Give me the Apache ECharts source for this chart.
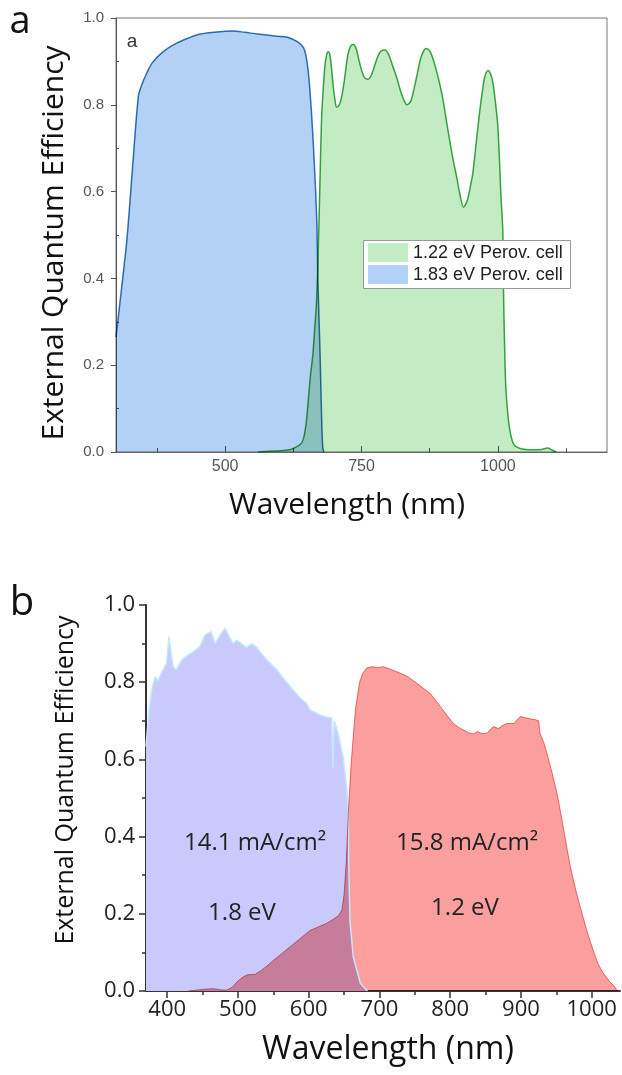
<!DOCTYPE html>
<html>
<head>
<meta charset="utf-8">
<title>External Quantum Efficiency</title>
<script src="https://cdn.jsdelivr.net/npm/echarts@6.0.0/dist/echarts.min.js"></script>
<style>
  html, body { margin: 0; padding: 0; background: #fff; }
  #chart { width: 622px; height: 1075px; }
</style>
</head>
<body>
<div id="chart"></div>
<script>
// ---- Panel a: 1.83 eV / 1.22 eV perovskite cells ----
const topBlueNm  = [300,310,320,330,341,347,356,366,386,411,433,454,485,515,536,560,576,595,613,633,644,650,655,661,668,670,674,677,679,681];
const topBlueEqe = [0.265,0.375,0.49,0.65,0.82,0.845,0.872,0.896,0.922,0.942,0.954,0.963,0.968,0.970,0.967,0.963,0.961,0.958,0.956,0.945,0.931,0.90,0.841,0.726,0.535,0.40,0.228,0.074,0.01,0];

const topGreenNm  = [560,580,600,620,628,638,643,648,652,656,661,664,667.5,670.6,673.6,676.7,679.5,682.8,686,689,692,695,698,701,704,707,711,716,720,725,730,735,740,745,750,756,762,768,774,780,786,793,800,807,814,822,828,833.5,840,846,852,858,863,868,874,880,887,893,899.5,908,918,925,930,937,944,950,954,960,967,972,976,982,987,991,996,1000,1006,1009,1010.5,1014,1018,1022,1028,1034,1045,1064,1080,1091,1100,1107];
const topGreenEqe = [0,0.002,0.003,0.006,0.01,0.018,0.028,0.06,0.112,0.17,0.227,0.28,0.343,0.458,0.611,0.765,0.83,0.888,0.915,0.922,0.915,0.885,0.845,0.815,0.795,0.796,0.805,0.835,0.87,0.915,0.935,0.939,0.93,0.905,0.88,0.862,0.859,0.868,0.89,0.912,0.924,0.926,0.915,0.89,0.865,0.83,0.81,0.80,0.808,0.835,0.87,0.905,0.922,0.93,0.926,0.91,0.88,0.85,0.811,0.745,0.673,0.63,0.596,0.564,0.58,0.615,0.642,0.71,0.788,0.835,0.865,0.879,0.87,0.85,0.8,0.75,0.58,0.51,0.358,0.166,0.09,0.05,0.02,0.012,0.007,0.005,0.006,0.009,0.004,0];

const topXTicks      = [500, 750, 1000];
const topXMinorTicks = [375, 625, 875, 1125];
const topYMinorTicks = [0.1, 0.3, 0.5, 0.7, 0.9];
const topLegendNames = ['1.22 eV Perov. cell', '1.83 eV Perov. cell'];

// ---- Panel b: 1.8 eV / 1.2 eV subcells ----
const botBlueNm  = [370,374,378,383,387,394,399,402.5,405,408.6,413,420,428,437,446,453.5,462,467.6,474.6,481.7,488.8,493.5,498,505,512,519.5,526.6,533,541,548,555,566,578,588,597,602,616,625,632.5,634,636,641.6,648.6,654,655.7,657,658.5,663,673,683];
const botBlueEqe = [0.633,0.72,0.78,0.814,0.804,0.832,0.849,0.918,0.88,0.84,0.832,0.857,0.868,0.879,0.892,0.922,0.931,0.90,0.922,0.94,0.914,0.90,0.909,0.90,0.89,0.90,0.89,0.875,0.857,0.845,0.832,0.806,0.78,0.759,0.745,0.728,0.715,0.71,0.707,0.578,0.70,0.668,0.606,0.52,0.477,0.29,0.176,0.088,0.02,0];

const botRedNm  = [430,440,455,465,475,484,492,499,506,513,524,532,541,552,564,576,588,602,616,625,634,642,647,650,653,656,660,666,672,676,682,690,698,705.6,715,724.6,738.7,752.9,771.7,786,795,804.7,811,818.8,826,833,838,845,852,857,861,868,874,880,890,899,906,913,920,925,927,932,936.7,944,951,958,965,970,979,988,995,1002,1009,1016,1025,1033,1036];
const botRedEqe = [0,0.002,0.005,0.006,0.003,0.002,0.01,0.024,0.035,0.042,0.043,0.052,0.065,0.082,0.1,0.118,0.136,0.157,0.168,0.175,0.185,0.195,0.21,0.25,0.33,0.46,0.59,0.73,0.8,0.822,0.837,0.84,0.838,0.84,0.834,0.827,0.816,0.797,0.771,0.737,0.715,0.693,0.684,0.676,0.669,0.666,0.672,0.667,0.668,0.678,0.685,0.68,0.688,0.693,0.693,0.711,0.708,0.705,0.703,0.70,0.667,0.645,0.616,0.565,0.512,0.443,0.37,0.32,0.25,0.19,0.145,0.106,0.07,0.047,0.025,0.01,0];

const botXTicks      = [400, 500, 600, 700, 800, 900, 1000];
const botXMinorTicks = [450, 550, 650, 750, 850, 950];
const botYMinorTicks = [0.1, 0.3, 0.5, 0.7, 0.9];

const zip = (xs, ys) => xs.map((x, i) => [x, ys[i]]);
const plain = v => String(v);
const oneDecimal = v => v.toFixed(1);

const SANS = '"Open Sans", "Noto Sans", sans-serif';
const ARIAL = '"Liberation Sans", Arial, sans-serif';

const C = {
  blueFill: '#b3d1f5', blueLine: '#2f78b8',
  greenFill: '#c4ecc4', greenLine: '#3aa845',
  lavFill: '#c9c9fb', lavLine: '#c2e8ff',
  redFill: '#fa9e9e', redLine: '#ee7a7a'
};

const chart = echarts.init(document.getElementById('chart'), null, { renderer: 'canvas' });

const noSplit = { show: false };

const option = {
  backgroundColor: '#fff',
  animation: false,
  grid: [
    { left: 116, top: 18, width: 491, height: 434, show: true, borderColor: '#777', borderWidth: 1, backgroundColor: 'transparent' },
    { left: 146, top: 605, width: 474, height: 386 }
  ],
  xAxis: [
    { gridIndex: 0, type: 'value', position: 'bottom', min: 300, max: 1200,
      axisLine: { show: true, lineStyle: { color: '#666', width: 1 } },
      axisTick: { show: true, inside: true, length: 6, customValues: topXTicks, lineStyle: { color: '#555' } },
      axisLabel: { customValues: topXTicks, formatter: plain, fontSize: 16, color: '#555', fontFamily: ARIAL, margin: 7 },
      splitLine: noSplit },
    { gridIndex: 0, type: 'value', position: 'bottom', min: 300, max: 1200,
      axisLine: { show: false },
      axisTick: { show: true, inside: true, length: 4, customValues: topXMinorTicks, lineStyle: { color: '#555' } },
      axisLabel: { show: false }, splitLine: noSplit },
    { gridIndex: 1, type: 'value', position: 'bottom', min: 370, max: 1040,
      axisLine: { show: true, lineStyle: { color: '#333', width: 2 } },
      axisTick: { show: true, length: 7, customValues: botXTicks, lineStyle: { color: '#333', width: 1.5 } },
      axisLabel: { customValues: botXTicks, formatter: plain, fontSize: 22, color: '#222', fontFamily: SANS, margin: 8 },
      splitLine: noSplit },
    { gridIndex: 1, type: 'value', position: 'bottom', min: 370, max: 1040,
      axisLine: { show: false },
      axisTick: { show: true, length: 4, customValues: botXMinorTicks, lineStyle: { color: '#333', width: 1.5 } },
      axisLabel: { show: false }, splitLine: noSplit }
  ],
  yAxis: [
    { gridIndex: 0, type: 'value', position: 'left', min: 0, max: 1, interval: 0.2,
      axisLine: { show: true, lineStyle: { color: '#555', width: 1 } },
      axisTick: { show: true, length: 5, lineStyle: { color: '#555' } },
      axisLabel: { formatter: oneDecimal, fontSize: 15, color: '#555', fontFamily: ARIAL, margin: 12 },
      splitLine: noSplit },
    { gridIndex: 0, type: 'value', position: 'left', min: 0, max: 1,
      axisLine: { show: false },
      axisTick: { show: true, inside: true, length: 3, customValues: topYMinorTicks, lineStyle: { color: '#555' } },
      axisLabel: { show: false }, splitLine: noSplit },
    { gridIndex: 1, type: 'value', position: 'left', min: 0, max: 1, interval: 0.2,
      axisLine: { show: true, lineStyle: { color: '#333', width: 2 } },
      axisTick: { show: true, length: 7, lineStyle: { color: '#333', width: 1.5 } },
      axisLabel: { formatter: oneDecimal, fontSize: 22, color: '#222', fontFamily: SANS, margin: 11 },
      splitLine: noSplit },
    { gridIndex: 1, type: 'value', position: 'left', min: 0, max: 1,
      axisLine: { show: false },
      axisTick: { show: true, length: 4, customValues: botYMinorTicks, lineStyle: { color: '#333', width: 1.5 } },
      axisLabel: { show: false }, splitLine: noSplit }
  ],
  series: [
    { name: topLegendNames[0], type: 'line', xAxisIndex: 0, yAxisIndex: 0,
      data: zip(topGreenNm, topGreenEqe), symbol: 'none', smooth: 0.3,
      lineStyle: { color: C.greenLine, width: 1.5 },
      areaStyle: { color: C.greenFill, opacity: 1 }, blendMode: 'multiply' },
    { name: topLegendNames[1], type: 'line', xAxisIndex: 0, yAxisIndex: 0,
      data: zip(topBlueNm, topBlueEqe), symbol: 'none', smooth: 0.3,
      lineStyle: { color: C.blueLine, width: 1.5 },
      areaStyle: { color: C.blueFill, opacity: 1 }, blendMode: 'multiply' },
    { name: '1.8 eV', type: 'line', xAxisIndex: 2, yAxisIndex: 2,
      data: zip(botBlueNm, botBlueEqe), symbol: 'none',
      lineStyle: { color: C.lavLine, width: 1.5 },
      areaStyle: { color: C.lavFill, opacity: 1 } },
    { name: '1.2 eV', type: 'line', xAxisIndex: 2, yAxisIndex: 2,
      data: zip(botRedNm, botRedEqe), symbol: 'none',
      lineStyle: { color: C.redLine, width: 1 },
      areaStyle: { color: C.redFill, opacity: 1 }, blendMode: 'multiply' }
  ],
  graphic: [
    // panel letters
    { type: 'text', z: 100, x: 20, y: 22, style: { text: 'a', font: '38px ' + SANS, fill: '#111', textAlign: 'center', textVerticalAlign: 'middle' } },
    { type: 'text', z: 100, x: 22, y: 604, style: { text: 'b', font: '40px ' + SANS, fill: '#111', textAlign: 'center', textVerticalAlign: 'middle' } },
    { type: 'text', z: 100, x: 132, y: 42, style: { text: 'a', font: '19px ' + ARIAL, fill: '#333', textAlign: 'center', textVerticalAlign: 'middle' } },
    // axis titles
    { type: 'text', z: 100, x: 54, y: 243, rotation: Math.PI / 2, style: { text: 'External Quantum Efficiency', font: '30px ' + SANS, fill: '#111', textAlign: 'center', textVerticalAlign: 'middle' } },
    { type: 'text', z: 100, x: 347, y: 505, style: { text: 'Wavelength (nm)', font: '30px ' + SANS, fill: '#111', textAlign: 'center', textVerticalAlign: 'middle' } },
    { type: 'text', z: 100, x: 66, y: 780, rotation: Math.PI / 2, style: { text: 'External Quantum Efficiency', font: '25px ' + SANS, fill: '#111', textAlign: 'center', textVerticalAlign: 'middle' } },
    { type: 'text', z: 100, x: 388, y: 1050, style: { text: 'Wavelength (nm)', font: '32px ' + SANS, fill: '#111', textAlign: 'center', textVerticalAlign: 'middle' } },
    // legend of panel a
    { type: 'rect', z: 100, shape: { x: 363.5, y: 240.5, width: 207, height: 48 }, style: { fill: '#fff', stroke: '#999', lineWidth: 1 } },
    { type: 'rect', z: 101, shape: { x: 368, y: 243, width: 40, height: 19 }, style: { fill: C.greenFill } },
    { type: 'rect', z: 101, shape: { x: 368, y: 265, width: 40, height: 19 }, style: { fill: C.blueFill } },
    { type: 'text', z: 101, x: 413, y: 253, style: { text: topLegendNames[0], font: '18px ' + ARIAL, fill: '#222', textAlign: 'left', textVerticalAlign: 'middle' } },
    { type: 'text', z: 101, x: 413, y: 275, style: { text: topLegendNames[1], font: '18px ' + ARIAL, fill: '#222', textAlign: 'left', textVerticalAlign: 'middle' } },
    // panel b annotations
    { type: 'text', z: 100, x: 255, y: 843, style: { text: '14.1 mA/cm²', font: '24px ' + SANS, fill: '#222', textAlign: 'center', textVerticalAlign: 'middle' } },
    { type: 'text', z: 100, x: 242, y: 913, style: { text: '1.8 eV', font: '24px ' + SANS, fill: '#222', textAlign: 'center', textVerticalAlign: 'middle' } },
    { type: 'text', z: 100, x: 467, y: 843, style: { text: '15.8 mA/cm²', font: '24px ' + SANS, fill: '#222', textAlign: 'center', textVerticalAlign: 'middle' } },
    { type: 'text', z: 100, x: 465, y: 908, style: { text: '1.2 eV', font: '24px ' + SANS, fill: '#222', textAlign: 'center', textVerticalAlign: 'middle' } }
  ]
};

chart.setOption(option);
</script>
</body>
</html>
